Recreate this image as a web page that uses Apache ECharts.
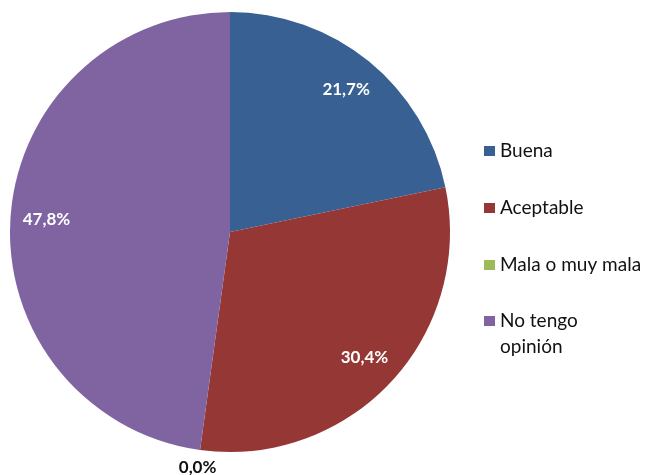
<!DOCTYPE html>
<html>
<head>
<meta charset="utf-8">
<script src="https://cdn.jsdelivr.net/npm/echarts@6/dist/echarts.min.js"></script>
<style>html,body{margin:0;padding:0;background:#fff}#c{width:647px;height:475px}</style>
</head>
<body>
<div id="c"></div>
<script>
const categories = ['Buena', 'Aceptable', 'Mala o muy mala', 'No tengo opinión'];
const legendLabels = ['Buena', 'Aceptable', 'Mala o muy mala', '\nNo tengo\nopinión'];
const values = [5, 7, 0, 11];
const colors = ['#386092', '#953735', '#9BBB59', '#8064A2'];

const total = values.reduce((a, b) => a + b, 0);
const pct = v => (v / total * 100).toFixed(1).replace('.', ',') + '%';
const font = 'Lato, "Open Sans", sans-serif';

const chart = echarts.init(document.getElementById('c'), null, {renderer: 'canvas'});
const center = [230, 232];

const legendBase = {
  orient: 'vertical',
  left: 484,
  padding: 0,
  itemWidth: 11,
  itemHeight: 10,
  itemGap: 37,
  selectedMode: false,
  icon: 'rect',
  formatter: name => legendLabels[categories.indexOf(name)],
  textStyle: {fontFamily: font, fontSize: 19, color: '#111', lineHeight: 20}
};

chart.setOption({
  animation: false,
  color: colors,
  legend: [
    Object.assign({}, legendBase, {top: 141, data: categories.slice(0, 3)}),
    Object.assign({}, legendBase, {
      top: 282,
      textStyle: Object.assign({}, legendBase.textStyle, {lineHeight: 26}),
      data: categories.slice(3)
    })
  ],
  series: [
    {
      type: 'pie',
      center: center,
      radius: 220,
      startAngle: 90,
      clockwise: true,
      silent: true,
      itemStyle: {borderWidth: 0},
      label: {show: false},
      labelLine: {show: false},
      emphasis: {disabled: true},
      data: categories.map((c, i) => ({name: c, value: values[i], itemStyle: {color: colors[i]}}))
    },
    {
      type: 'pie',
      center: center,
      radius: [142, 220],
      startAngle: 90,
      clockwise: true,
      silent: true,
      itemStyle: {color: 'transparent', borderWidth: 0},
      label: {
        show: true, position: 'inside', rotate: 0,
        fontFamily: font, fontWeight: 'bold', fontSize: 17, color: '#fff',
        formatter: p => pct(p.value)
      },
      labelLine: {show: false},
      emphasis: {disabled: true},
      data: categories.map((c, i) => ({name: c, value: values[i], label: {show: values[i] !== 0}}))
    },
    {
      type: 'pie',
      center: center,
      radius: [225, 245],
      startAngle: 90,
      clockwise: true,
      silent: true,
      itemStyle: {color: 'transparent', borderWidth: 0},
      label: {
        show: true, position: 'inside', rotate: 0,
        fontFamily: font, fontWeight: 'bold', fontSize: 17, color: '#111',
        formatter: p => pct(p.value)
      },
      labelLine: {show: false},
      emphasis: {disabled: true},
      data: categories.map((c, i) => ({name: c, value: values[i], label: {show: values[i] === 0}}))
    }
  ]
});
</script>
</body>
</html>
